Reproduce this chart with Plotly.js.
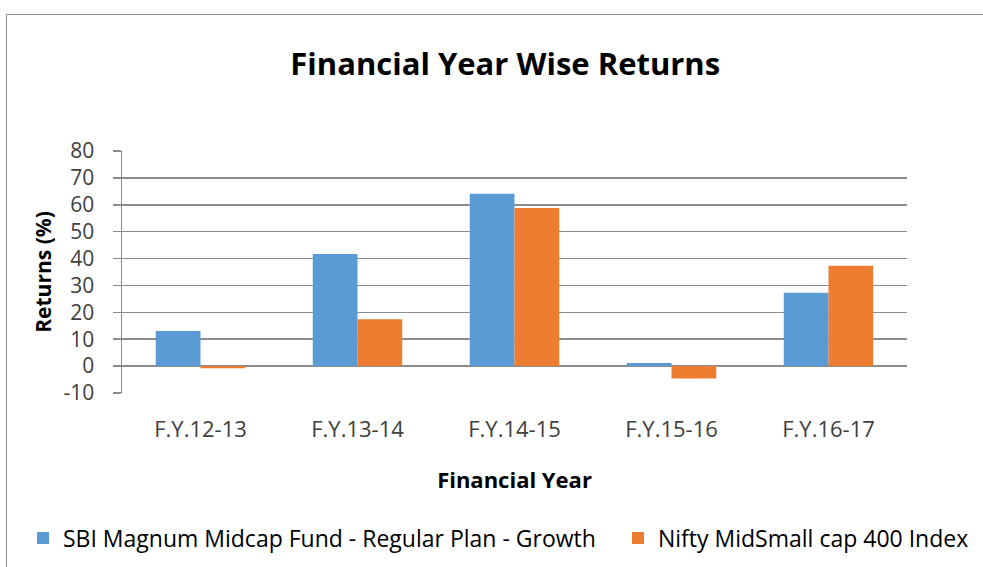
<!DOCTYPE html>
<html>
<head>
<meta charset="utf-8">
<script src="https://cdn.plot.ly/plotly-3.0.1.min.js"></script>
<style>
  html, body { margin: 0; padding: 0; background: #fff; overflow: hidden; }
  #frame { position: absolute; left: 6px; top: 14px; width: 1200px; height: 800px;
           border-left: 1.5px solid #8c8c8c; border-top: 1.5px solid #8c8c8c; pointer-events: none; }
  #chart { position: absolute; left: 0; top: 0; width: 983px; height: 567px; }
</style>
</head>
<body>
<div id="chart"></div>
<div id="frame"></div>
<script>
const categories = ["F.Y.12-13", "F.Y.13-14", "F.Y.14-15", "F.Y.15-16", "F.Y.16-17"];
const sbiMagnum = [13.0, 41.7, 64.1, 1.1, 27.3];
const niftyMidSmall = [-0.8, 17.4, 58.8, -4.6, 37.3];
const seriesNames = ["SBI Magnum Midcap Fund - Regular Plan - Growth", "Nifty MidSmall cap 400 Index"];
const yTicks = [-10, 0, 10, 20, 30, 40, 50, 60, 70, 80];
const yTickLabels = ["-10", "0", "10", "20", "30", "40", "50", "60", "70", "80"];

const boundaryTicks = [-0.5].concat(categories.map((c, i) => i + 0.5));
const FONT = "Open Sans, Noto Sans, sans-serif";

const traces = [
  { type: "bar", name: seriesNames[0], x: categories, y: sbiMagnum, legend: "legend",
    marker: { color: "#5B9BD5" }, hoverinfo: "x+y" },
  { type: "bar", name: seriesNames[1], x: categories, y: niftyMidSmall, legend: "legend2",
    marker: { color: "#ED7D31" }, hoverinfo: "x+y" }
];

const plotL = 122, plotW = 785, plotB = 393, plotH = 242;
const legendFont = { family: FONT, size: 23, color: "#000" };
const legendY = -(538 - plotB) / plotH;

const layout = {
  width: 983, height: 567,
  paper_bgcolor: "rgba(0,0,0,0)", plot_bgcolor: "rgba(0,0,0,0)",
  margin: { l: 122, r: 76, t: 151, b: 174, autoexpand: false },
  barmode: "group", bargap: 0.43, bargroupgap: 0,
  font: { family: FONT, color: "#404040" },
  title: { text: "<b>Financial Year Wise Returns</b>", font: { family: FONT, size: 31, color: "#000" },
           x: 0.514, xanchor: "center", y: 1 - 64 / 567, yanchor: "middle", yref: "container" },
  xaxis: {
    type: "category", categoryorder: "array", categoryarray: categories,
    range: [-0.5, categories.length - 0.5],
    showgrid: false, zeroline: false, showline: false, ticks: "",
    ticklabelstandoff: 21,
    tickfont: { family: FONT, size: 22, color: "#404040" },
    title: { text: "<b>Financial Year</b>", font: { family: FONT, size: 22, color: "#000" }, standoff: 30 }
  },
  xaxis2: {
    type: "linear", overlaying: "x", anchor: "free", position: 10 / 90,
    range: [-0.5, categories.length - 0.5],
    tickmode: "array", tickvals: boundaryTicks, ticktext: boundaryTicks.map(() => ""),
    ticks: "outside", ticklen: 9, tickwidth: 1.5, tickcolor: "#8c8c8c",
    showline: true, linecolor: "#8c8c8c", linewidth: 1.5,
    showgrid: false, zeroline: false, showticklabels: false, fixedrange: true
  },
  yaxis: {
    range: [-10.03, 80.03], tickmode: "array", tickvals: yTicks, ticktext: yTickLabels,
    showgrid: true, gridcolor: "#8c8c8c", gridwidth: 1.5, zeroline: false,
    showline: true, linecolor: "#8c8c8c", linewidth: 1.5,
    ticks: "outside", ticklen: 8, tickwidth: 1.5, tickcolor: "#8c8c8c",
    ticklabelstandoff: 14,
    tickfont: { family: FONT, size: 21, color: "#404040" },
    title: { text: "<b>Returns (%)</b>", font: { family: FONT, size: 21, color: "#000" }, standoff: 6 }
  },
  showlegend: true,
  legend: {
    orientation: "h", x: (23 - plotL) / plotW, xanchor: "left", y: legendY, yanchor: "middle",
    font: legendFont, bgcolor: "rgba(0,0,0,0)"
  },
  legend2: {
    orientation: "h", x: (618 - plotL) / plotW, xanchor: "left", y: legendY, yanchor: "middle",
    font: legendFont, bgcolor: "rgba(0,0,0,0)"
  }
};

Plotly.newPlot("chart", traces, layout, { displayModeBar: false, staticPlot: true });
</script>
</body>
</html>
